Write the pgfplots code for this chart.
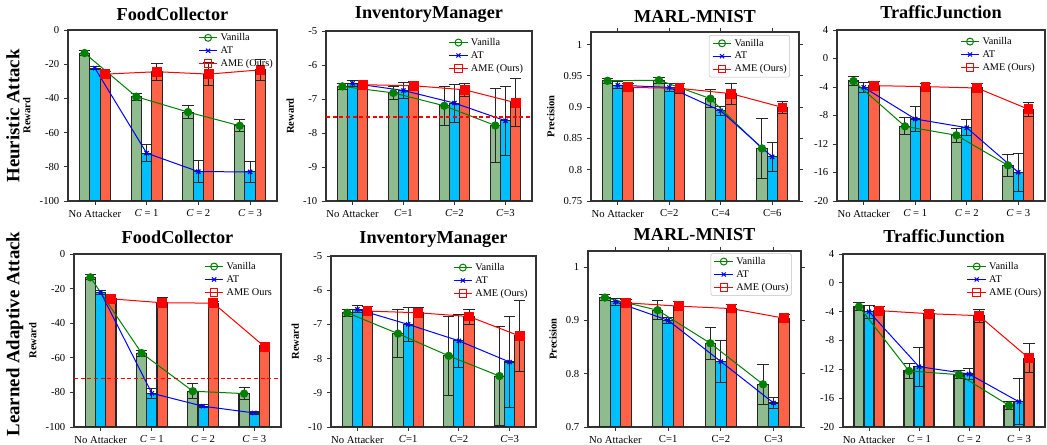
\documentclass[border=0pt]{standalone}
\usepackage{fontspec}
\setmainfont{Liberation Serif}
\usepackage{pgfplots}
\usepackage{pgfplotstable}
\pgfplotsset{compat=1.18}

\definecolor{vline}{RGB}{0,128,0}
\definecolor{vbar}{RGB}{143,188,143}
\definecolor{abar}{RGB}{0,191,255}
\definecolor{mbar}{RGB}{255,99,71}
\definecolor{dashred}{RGB}{255,0,0}

% columns: x, Vanilla (v, err), AT (a, err), AME (m, err)
\pgfplotstableread{
x v ve a ae m me
0 -13.5 1.5 -22.3 1.0 -25.8 1.4
1 -39.0 2.0 -72.0 5.0 -24.4 5.0
2 -48.0 4.0 -82.8 6.5 -25.8 6.5
3 -56.0 3.5 -83.0 6.0 -23.3 6.0
}\fcH
\pgfplotstableread{
x v ve a ae m me
0 -6.63 0.10 -6.54 0.09 -6.58 0.13
1 -6.82 0.20 -6.75 0.23 -6.61 0.13
2 -7.20 0.58 -7.12 0.56 -6.73 0.20
3 -7.78 1.10 -7.64 1.02 -7.11 0.71
}\imH
\pgfplotstableread{
x v ve a ae m me
0 0.942 0.004 0.935 0.006 0.9315 0.007
1 0.943 0.005 0.9315 0.006 0.930 0.008
2 0.9135 0.014 0.894 0.007 0.9215 0.017
3 0.834 0.048 0.8205 0.023 0.8995 0.009
}\mnH
\pgfplotstableread{
x v ve a ae m me
0 -3.16 0.7 -4.05 0.7 -3.81 0.6
1 -9.52 1.2 -8.49 1.7 -3.95 0.5
2 -10.78 1.0 -9.71 1.1 -4.14 0.65
3 -15.00 1.5 -15.97 2.7 -7.13 1.0
}\tjH
\pgfplotstableread{
x v ve a ae m me
0 -13.5 1.4 -22.2 1.0 -25.9 1.0
1 -57.3 1.7 -80.5 3.0 -28.2 3.0
2 -79.3 4.5 -88.0 1.0 -28.4 1.0
3 -80.7 3.6 -91.9 1.0 -53.6 0.6
}\fcL
\pgfplotstableread{
x v ve a ae m me
0 -6.66 0.10 -6.56 0.10 -6.61 0.13
1 -7.27 0.70 -7.00 0.50 -6.66 0.15
2 -7.92 1.15 -7.48 0.78 -6.77 0.22
3 -8.51 1.45 -8.10 1.34 -7.34 1.05
}\imL
\pgfplotstableread{
x v ve a ae m me
0 0.9427 0.005 0.9347 0.006 0.9328 0.006
1 0.919 0.018 0.900 0.006 0.9266 0.008
2 0.857 0.030 0.8227 0.040 0.922 0.008
3 0.780 0.038 0.745 0.010 0.904 0.006
}\mnL
\pgfplotstableread{
x v ve a ae m me
0 -3.30 0.6 -4.00 0.9 -3.86 0.6
1 -12.23 1.07 -11.63 2.7 -4.28 0.5
2 -12.74 0.6 -12.65 0.8 -4.56 0.9
3 -17.02 0.5 -16.51 3.2 -10.47 2.0
}\tjL

\pgfplotsset{
 panel/.style={
  scale only axis, anchor=south west,
  xmin=-0.52, xmax=3.52, xtick={0,1,2,3},
  tick align=outside, xtick pos=left, ytick pos=left,
  major tick length=3pt,
  tick style={black!80, line width=0.6pt},
  axis line style={black!80, line width=0.8pt},
  tick label style={font=\fontsize{8}{9.6}\selectfont},
  ylabel style={font=\bfseries\fontsize{7.9}{9}\selectfont},
  every axis title shift=0pt,
  title style={font=\bfseries\fontsize{13.7}{16}\selectfont, at={(0.5,1)}, anchor=base},
  legend style={draw=none, fill=none, inner sep=0pt, anchor=north west,
    font=\fontsize{7.7}{9}\selectfont,
    nodes={inner sep=0pt, text height=5.8pt, text depth=1.7pt},
    row sep=2.2pt, column sep=2pt, cells={anchor=west}},
  legend image code/.code={\draw[mark repeat=2,mark phase=2,##1] plot coordinates {(0pt,0pt) (7pt,0pt) (14pt,0pt)};},
  error bars/error bar style={black!85, line width=0.75pt},
  error bars/error mark options={rotate=90, black!85, line width=0.75pt, mark size=4.2pt},
 },
 boxleg/.style={legend style={draw=black!25, fill=white, inner sep=2.25pt, rounded corners=1.5pt}},
}

\newcommand\drawpanel[1]{%
 \addplot[ybar, bar shift=0pt, bar width=0.2, fill=vbar, draw=black!85, line width=0.8pt, forget plot,
   error bars/.cd, y dir=both, y explicit] table[x expr=\thisrow{x}-0.2, y=v, y error=ve] {#1};
 \addplot[ybar, bar shift=0pt, bar width=0.2, fill=abar, draw=black!85, line width=0.8pt, forget plot,
   error bars/.cd, y dir=both, y explicit] table[x=x, y=a, y error=ae] {#1};
 \addplot[ybar, bar shift=0pt, bar width=0.2, fill=mbar, draw=black!85, line width=0.8pt, forget plot,
   error bars/.cd, y dir=both, y explicit] table[x expr=\thisrow{x}+0.2, y=m, y error=me] {#1};
 \addplot[vline, line width=0.75pt, mark=*, mark size=2.75pt, forget plot] table[x expr=\thisrow{x}-0.2, y=v] {#1};
 \addplot[blue, line width=0.75pt, mark=x, mark size=2.2pt, mark options={line width=0.9pt}, forget plot] table[x=x, y=a] {#1};
 \addplot[red, line width=0.75pt, mark=square*, mark size=3.3pt, forget plot] table[x expr=\thisrow{x}+0.2, y=m] {#1};
}
\newcommand\legimgs{%
 \addlegendimage{vline, line width=0.75pt, mark=o, mark size=2.6pt, mark options={solid}}
 \addlegendimage{blue, line width=0.75pt, mark=x, mark size=2.2pt}
 \addlegendimage{red, line width=0.75pt, mark=square, mark size=2.8pt}
}

\begin{document}
\begin{tikzpicture}
\useasboundingbox (0,0) rectangle (785.25pt,333.75pt);

\node[rotate=90, anchor=base, font=\bfseries\fontsize{14.1}{17}\selectfont] at (14.5pt,246.75pt) {Heuristic Attack};
\node[rotate=90, anchor=base, font=\bfseries\fontsize{14.1}{17}\selectfont] at (14.5pt,83.25pt) {Learned Adaptive Attack};

% ---------- Row 1 ----------
\begin{axis}[panel, at={(51pt,183pt)}, width=156.75pt, height=128.25pt,
  title={FoodCollector}, title style={yshift=7.1pt}, ylabel={Reward},
  y coord trafo/.code={\pgfmathparse{#1+100}}, y coord inv trafo/.code={\pgfmathparse{#1-100}},
  ymin=-100, ymax=0, ytick={-100,-80,-60,-40,-20,0}, yticklabels={-100,-80,-60,-40,-20,0},
  xticklabels={No Attacker,{\textit{C} = 1},{\textit{C} = 2},{\textit{C} = 3}},
  legend style={at={(0.622,0.985)}}]
\drawpanel{\fcH}
\legimgs
\legend{Vanilla,AT,AME (Ours)}
\end{axis}

\begin{axis}[panel, at={(244.5pt,183pt)}, width=154.5pt, height=127.5pt,
  title={InventoryManager}, title style={yshift=9.7pt}, ylabel={Reward},
  y coord trafo/.code={\pgfmathparse{#1+10}}, y coord inv trafo/.code={\pgfmathparse{#1-10}},
  ymin=-10, ymax=-5, ytick={-10,-9,-8,-7,-6,-5}, yticklabels={-10,-9,-8,-7,-6,-5},
  xticklabels={No Attacker,{\textit{C}=1},{\textit{C}=2},{\textit{C}=3}},
  legend style={at={(0.594,0.963)}}]
\drawpanel{\imH}
\addplot[dashred, line width=0.8pt, dash pattern=on 3pt off 2pt, forget plot] coordinates {(-0.52,-7.53) (3.52,-7.53)};
\legimgs
\legend{Vanilla,AT,AME (Ours)}
\end{axis}

\begin{axis}[panel, boxleg, at={(443.25pt,183pt)}, width=156pt, height=126.75pt,
  title={MARL-MNIST}, title style={yshift=7.3pt}, ylabel={Precision},
  xtick pos=both, ytick pos=both,
  y coord trafo/.code={\pgfmathparse{#1-0.75}}, y coord inv trafo/.code={\pgfmathparse{#1+0.75}},
  ymin=0.75, ymax=1.02, ytick={0.75,0.8,0.85,0.9,0.95,1}, yticklabels={0.75,0.8,0.85,0.9,0.95,1},
  xticklabels={No Attacker,C=2,C=4,C=6},
  legend style={at={(0.567,0.982)}}]
\drawpanel{\mnH}
\legimgs
\legend{Vanilla,AT,AME (Ours)}
\end{axis}

\begin{axis}[panel, at={(627.75pt,183pt)}, width=156pt, height=128.25pt,
  title={TrafficJunction}, title style={yshift=8.8pt},
  y coord trafo/.code={\pgfmathparse{#1+20}}, y coord inv trafo/.code={\pgfmathparse{#1-20}},
  ymin=-20, ymax=4, ytick={-20,-16,-12,-8,-4,0,4}, yticklabels={-20,-16,-12,-8,-4,0,4},
  xticklabels={No Attacker,{\textit{C} = 1},{\textit{C} = 2},{\textit{C} = 3}},
  legend style={at={(0.591,0.963)}}]
\drawpanel{\tjH}
\legimgs
\legend{Vanilla,AT,AME (Ours)}
\end{axis}

% ---------- Row 2 ----------
\begin{axis}[panel, at={(55.5pt,13.5pt)}, width=155.25pt, height=129.75pt,
  title={FoodCollector}, title style={yshift=7.5pt}, ylabel={Reward},
  y coord trafo/.code={\pgfmathparse{#1+100}}, y coord inv trafo/.code={\pgfmathparse{#1-100}},
  ymin=-100, ymax=0, ytick={-100,-80,-60,-40,-20,0}, yticklabels={-100,-80,-60,-40,-20,0},
  xticklabels={No Attacker,{\textit{C} = 1},{\textit{C} = 2},{\textit{C} = 3}},
  legend style={at={(0.628,0.958)}}]
\drawpanel{\fcL}
\addplot[dashred, line width=0.8pt, dash pattern=on 3pt off 2pt, forget plot] coordinates {(-0.52,-72) (3.52,-72)};
\legimgs
\legend{Vanilla,AT,AME Ours}
\end{axis}

\begin{axis}[panel, at={(248.25pt,13.5pt)}, width=153.75pt, height=128.25pt,
  title={InventoryManager}, title style={yshift=9.5pt}, ylabel={Reward},
  y coord trafo/.code={\pgfmathparse{#1+10}}, y coord inv trafo/.code={\pgfmathparse{#1-10}},
  ymin=-10, ymax=-5, ytick={-10,-9,-8,-7,-6,-5}, yticklabels={-10,-9,-8,-7,-6,-5},
  xticklabels={No Attacker,{\textit{C}=1},{\textit{C}=2},{\textit{C}=3}},
  legend style={at={(0.594,0.963)}}]
\drawpanel{\imL}
\legimgs
\legend{Vanilla,AT,AME (Ours)}
\end{axis}

\begin{axis}[panel, boxleg, at={(441pt,13.5pt)}, width=159.75pt, height=132pt,
  title={MARL-MNIST}, title style={yshift=7.7pt}, ylabel={Precision},
  xtick pos=both, ytick pos=both,
  y coord trafo/.code={\pgfmathparse{#1-0.7}}, y coord inv trafo/.code={\pgfmathparse{#1+0.7}},
  ymin=0.7, ymax=1.03, ytick={0.7,0.8,0.9,1}, yticklabels={0.7,0.8,0.9,1},
  xticklabels={No Attacker,C=1,C=2,C=3},
  legend style={at={(0.576,0.987)}}]
\drawpanel{\mnL}
\legimgs
\legend{Vanilla,AT,AME (Ours)}
\end{axis}

\begin{axis}[panel, at={(632.25pt,13.5pt)}, width=151.5pt, height=129.75pt,
  title={TrafficJunction}, title style={yshift=8.5pt},
  y coord trafo/.code={\pgfmathparse{#1+20}}, y coord inv trafo/.code={\pgfmathparse{#1-20}},
  ymin=-20, ymax=4, ytick={-20,-16,-12,-8,-4,0,4}, yticklabels={-20,-16,-12,-8,-4,0,4},
  xticklabels={No Attacker,{\textit{C} = 1},{\textit{C} = 2},{\textit{C} = 3}},
  legend style={at={(0.612,0.958)}}]
\drawpanel{\tjL}
\legimgs
\legend{Vanilla,AT,AME (Ours)}
\end{axis}
\end{tikzpicture}
\end{document}
